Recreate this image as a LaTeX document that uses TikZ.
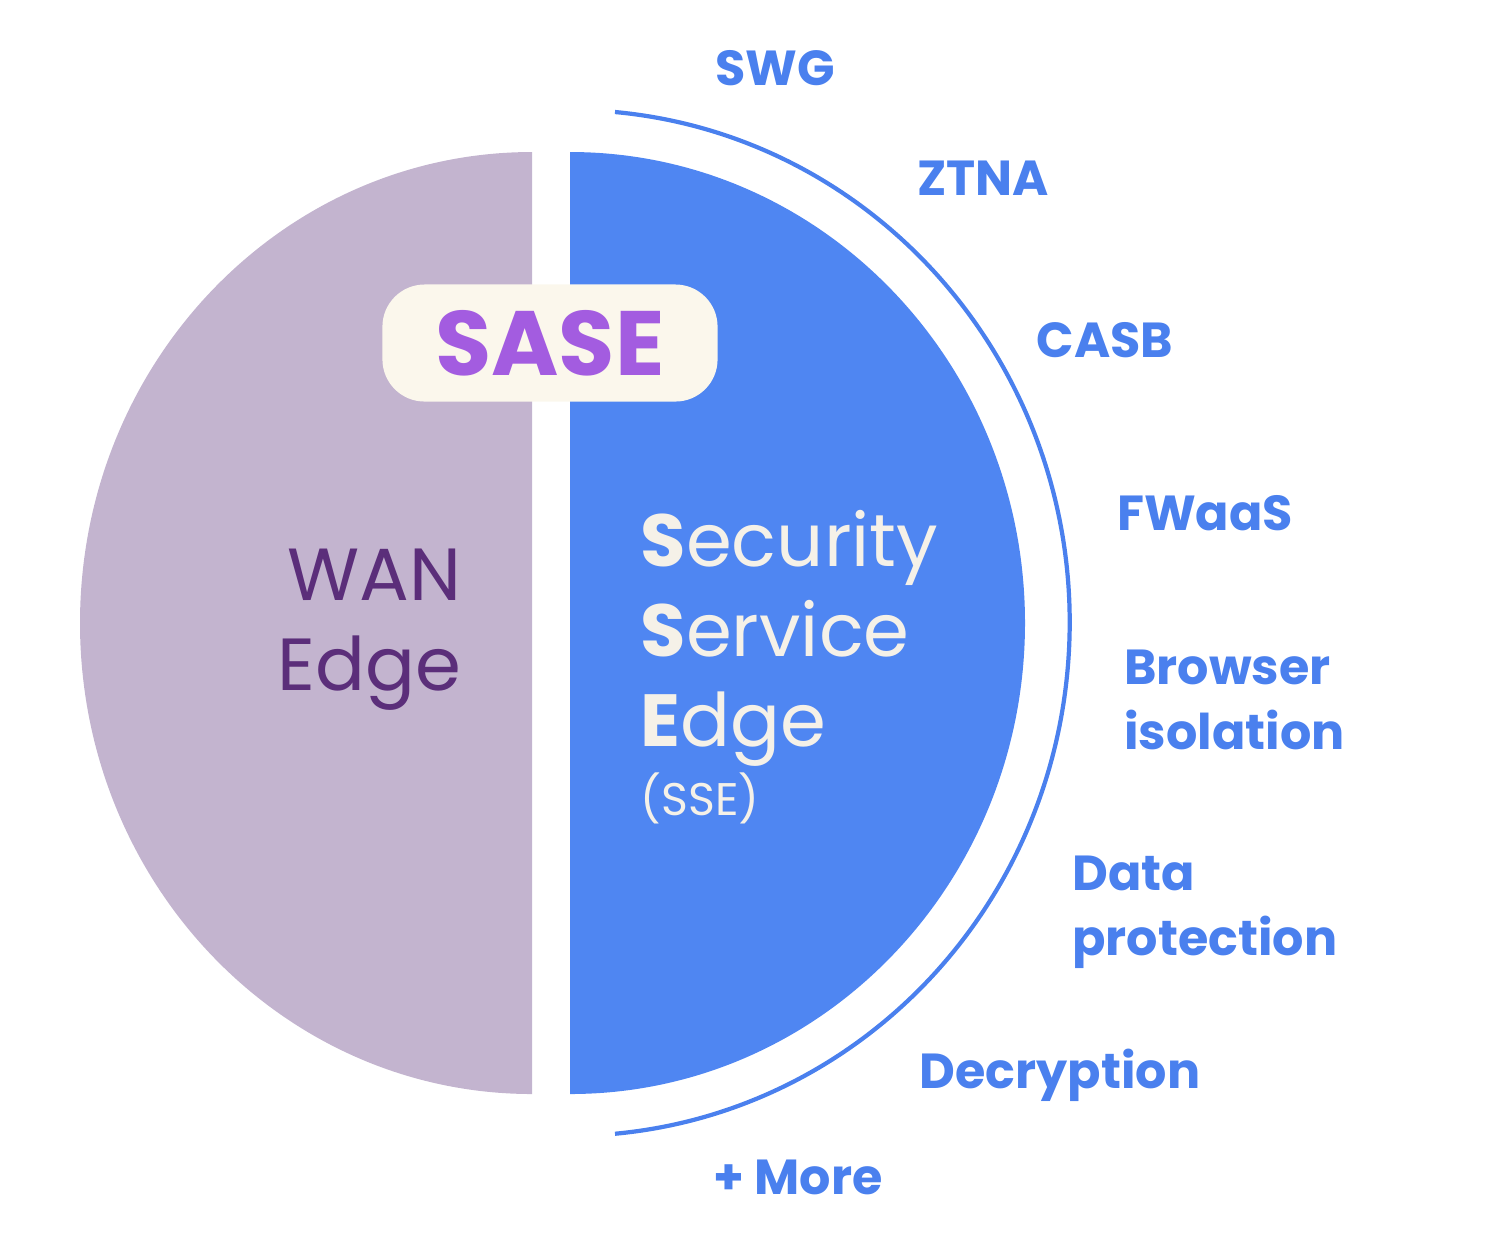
\documentclass[tikz,border=0pt]{standalone}
\usepackage{fontspec}
\setmainfont{Poppins}
\definecolor{lpur}{HTML}{C3B4CF}
\definecolor{dpur}{HTML}{5B2E7A}
\definecolor{sblue}{HTML}{4F86F2}
\definecolor{lblue}{HTML}{4A80EE}
\definecolor{cream}{HTML}{FBF7EC}
\definecolor{spur}{HTML}{A35CE0}
\definecolor{wtxt}{HTML}{F5F1E8}
\begin{document}
\begin{tikzpicture}[x=0.01cm,y=-0.01cm,
  lab/.style={text=lblue,font=\fontsize{14}{18.5}\selectfont\bfseries,align=left},
  mid/.style={font=\fontsize{21}{25.6}\selectfont}]
\useasboundingbox (0,0) rectangle (1500,1253);
\fill[lpur] (532,152) arc[start angle=270,end angle=90,x radius=452,y radius=471] -- cycle;
\fill[sblue] (570,152) arc[start angle=-90,end angle=90,x radius=455,y radius=471] -- cycle;
\draw[lblue,line width=1.2pt] (615,112) arc[start angle=-84.8,end angle=84.8,x radius=500,y radius=513];
\node[fill=cream,rounded corners=12pt,text=spur,font=\fontsize{26}{30}\selectfont\bfseries,minimum width=335*0.2845pt,minimum height=117*0.2845pt] (sase) at (550,343) {SASE};
\node[mid,text=dpur,align=right,anchor=base east,inner sep=0pt] (wan) at (462,690) {WAN\\Edge};
\node[mid,text=wtxt,align=left,anchor=base west,inner sep=0pt] (sse) at (640,815) {\textbf{S}ecurity\\\textbf{S}ervice\\\textbf{E}dge\\[-6pt]{\fontsize{13}{16}\selectfont (SSE)}};
\node[lab] (swg) at (775,68) {SWG};
\node[lab] (ztna) at (983,178) {ZTNA};
\node[lab] (casb) at (1105,340) {CASB};
\node[lab] (fw) at (1205,513) {FWaaS};
\node[lab,anchor=west] (bi) at (1112,700) {Browser\\isolation};
\node[lab,anchor=west] (dp) at (1060,912) {Data\\protection};
\node[lab] (dec) at (1060,1075) {Decryption};
\node[lab] (more) at (798,1177) {+ More};
\end{tikzpicture}
\end{document}
